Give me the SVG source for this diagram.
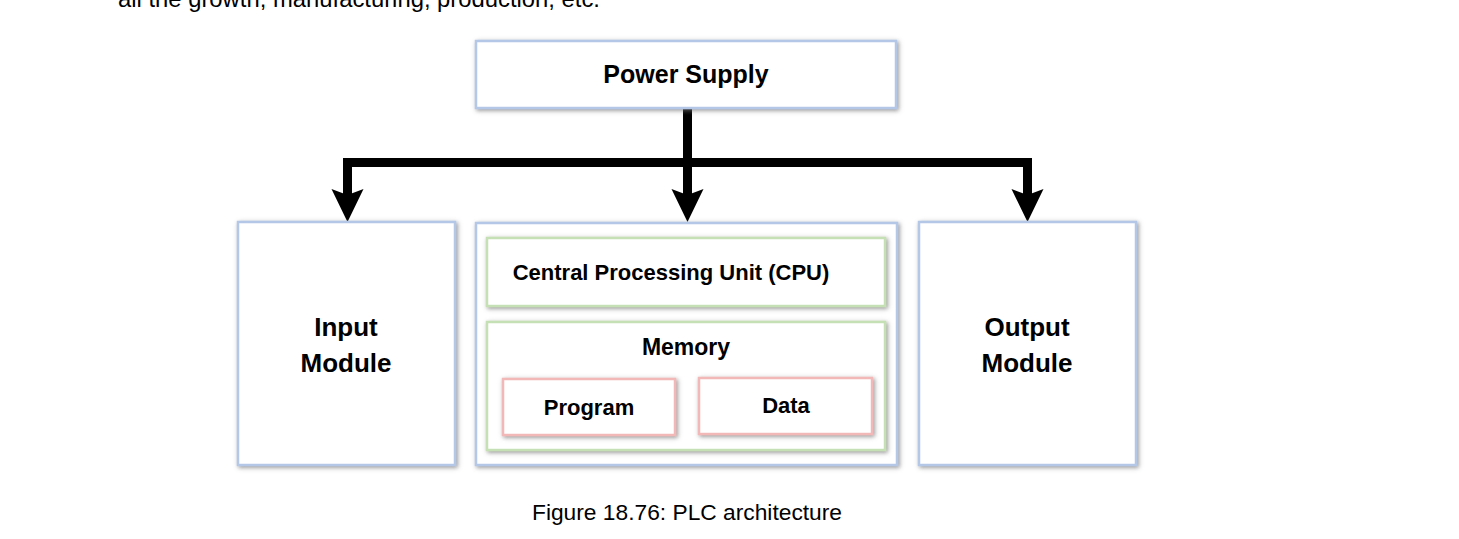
<svg xmlns="http://www.w3.org/2000/svg" width="1459" height="539" viewBox="0 0 1459 539">
<style>
  text { font-family: "Liberation Sans", Arial, sans-serif; fill: #000; }
  .b { font-weight: bold; text-anchor: middle; }
  .box { fill: #fff; stroke-width: 2.5; filter: url(#sh); }
  .blue { stroke: #b4c7e7; }
  .green { stroke: #c5e0b4; }
  .red { stroke: #f2b8b8; }
  .conn { fill: none; stroke: #000; stroke-width: 9; stroke-linejoin: miter; stroke-linecap: butt; }
</style>
<defs>
  <filter id="sh" x="-10%" y="-10%" width="120%" height="125%">
    <feDropShadow dx="1.5" dy="1.5" stdDeviation="2" flood-color="#6f6f6f" flood-opacity="0.75"/>
  </filter>
  <marker id="arr" markerUnits="userSpaceOnUse" markerWidth="40" markerHeight="40" refX="0" refY="0" orient="auto" overflow="visible">
    <path d="M-6,-16 L27,0 L-6,16 L0,0 Z" fill="#000"/>
  </marker>
</defs>
<rect width="1459" height="539" fill="#fff"/>
<text x="118" y="7" font-size="24" textLength="482" lengthAdjust="spacingAndGlyphs">all the growth, manufacturing, production, etc.</text>

<g id="connectors">
  <path class="conn" d="M687.5,108 V195" marker-end="url(#arr)"/>
  <path class="conn" d="M687.5,162.5 H347.5 V195" marker-end="url(#arr)"/>
  <path class="conn" d="M687.5,162.5 H1027.5 V195" marker-end="url(#arr)"/>
</g>

<g id="power-supply">
  <rect class="box blue" x="476" y="41" width="420" height="67"/>
  <text class="b" x="686" y="83" font-size="25">Power Supply</text>
</g>

<g id="input-module">
  <rect class="box blue" x="238" y="222" width="217" height="243"/>
  <text class="b" x="346" y="336" font-size="26">Input</text>
  <text class="b" x="346" y="372" font-size="26">Module</text>
</g>

<g id="plc-core">
  <rect class="box blue" x="476" y="223" width="421" height="242"/>
</g>

<g id="cpu">
  <rect class="box green" x="487" y="238" width="398" height="68"/>
  <text class="b" x="671" y="280" font-size="22">Central Processing Unit (CPU)</text>
</g>

<g id="memory">
  <rect class="box green" x="487" y="322" width="398" height="128"/>
  <text class="b" x="686" y="355" font-size="23">Memory</text>
</g>

<g id="program">
  <rect class="box red" x="503" y="379" width="172" height="56"/>
  <text class="b" x="589" y="415" font-size="22">Program</text>
</g>

<g id="data">
  <rect class="box red" x="699" y="378" width="173" height="56"/>
  <text class="b" x="786" y="413" font-size="22">Data</text>
</g>

<g id="output-module">
  <rect class="box blue" x="919" y="222" width="217" height="243"/>
  <text class="b" x="1027" y="336" font-size="26">Output</text>
  <text class="b" x="1027" y="372" font-size="26">Module</text>
</g>

<text x="532" y="520" font-size="22" textLength="310" lengthAdjust="spacingAndGlyphs">Figure 18.76: PLC architecture</text>
</svg>
